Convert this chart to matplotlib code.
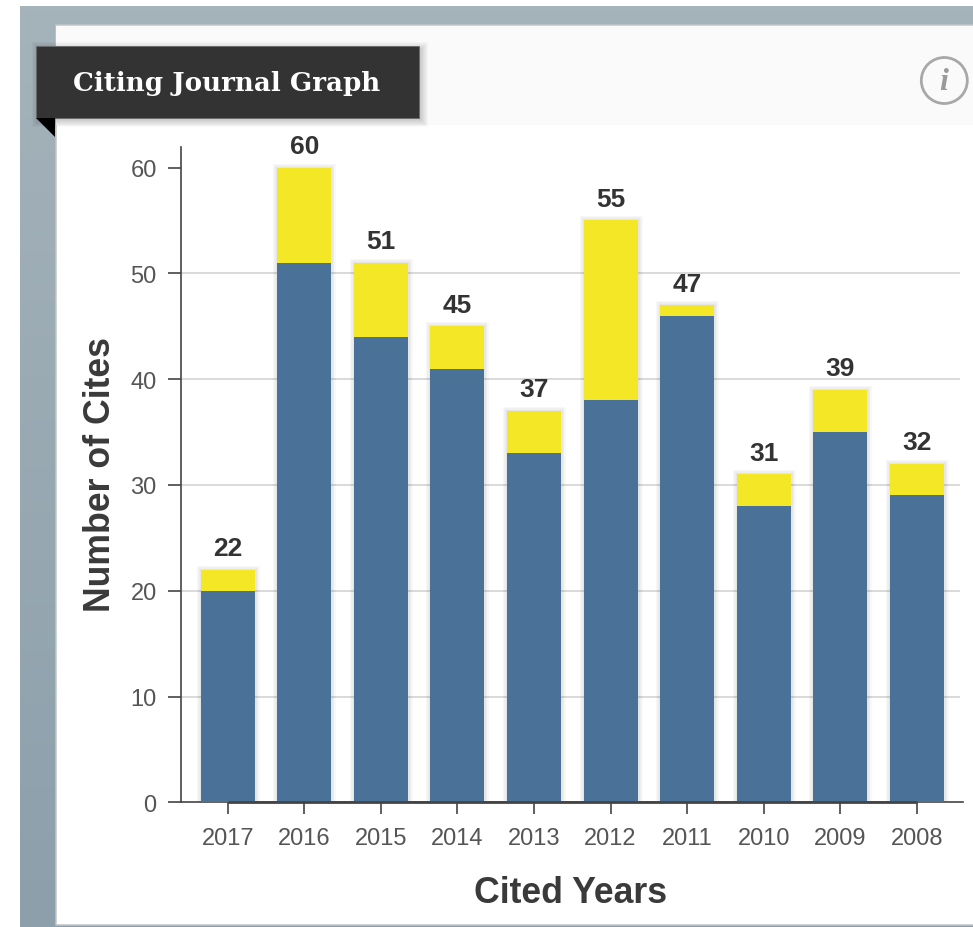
import numpy as np
import matplotlib
matplotlib.use("Agg")
import matplotlib.pyplot as plt
from matplotlib.patches import Rectangle, Polygon, Circle

years = ["2017", "2016", "2015", "2014", "2013", "2012", "2011", "2010", "2009", "2008"]
lower = [20, 51, 44, 41, 33, 38, 46, 28, 35, 29]
upper = [2, 9, 7, 4, 4, 17, 1, 3, 4, 3]
totals = [22, 60, 51, 45, 37, 55, 47, 31, 39, 32]
y_ticks = [0, 10, 20, 30, 40, 50, 60]
grid_lines = [10, 20, 30, 40, 50]

W, H = 973, 928
plt.rcParams['font.family'] = ['Liberation Sans', 'DejaVu Sans']

fig = plt.figure(figsize=(W / 100, H / 100), dpi=100, facecolor="white")

# background in pixel coordinates
bg = fig.add_axes([0, 0, 1, 1], zorder=0)
bg.axis("off")

# grey page behind the panel, slightly darker to the bottom
grad = np.linspace(0, 1, 256).reshape(-1, 1)
grey = matplotlib.colors.LinearSegmentedColormap.from_list("g", ["#a5b3ba", "#8c9fab"])
bg.imshow(grad, extent=(20, W, H, 7), aspect="auto", cmap=grey, zorder=0)
bg.set_xlim(0, W)
bg.set_ylim(H, 0)

bg.add_patch(Rectangle((55.5, 26), W - 55, 899.5, fc="white", ec="#c2c6c8", lw=1.1, zorder=1))
bg.add_patch(Rectangle((56, 27), W - 56, 99, fc="#fafafa", ec="none", zorder=1))

# title ribbon with soft shadow
for d in range(9, 0, -1):
    bg.add_patch(Rectangle((38 - d + 3, 49 - d + 3), 381 + 2 * d - 3, 70 + 2 * d - 3,
                           fc="black", ec="none", alpha=0.025, zorder=2))
bg.add_patch(Rectangle((36, 47), 383, 72, fc="#333333", ec="#6a6a6a", lw=0.6, zorder=3))
bg.add_patch(Polygon([(36, 119), (55, 119), (55, 138)], closed=True, fc="black", ec="none", zorder=3))
bg.text(227, 83, "Citing Journal Graph", color="white", fontsize=18.8, fontweight="bold",
        family=["DejaVu Serif"], ha="center", va="center", zorder=4)

# info icon
bg.add_patch(Circle((944.3, 81.5), 23, fc="none", ec="#a8a8a8", lw=2, zorder=3))
bg.text(944, 82, "i", color="#9a9a9a", fontsize=23, fontweight="bold", fontstyle="italic",
        family=["Liberation Serif"], ha="center", va="center", zorder=4)

# chart, positioned on the pixels of the plot area
left, right, top, bottom = 181, 963, 147.5, 803.3
step = 76.55
first = 227.8
ax = fig.add_axes([left / W, 1 - bottom / H, (right - left) / W, (bottom - top) / H], zorder=2)
ax.patch.set_alpha(0)

x = np.arange(len(years))
bar_w = 54 / step

ax.set_xlim((left - first) / step, (right - first) / step)
ax.set_ylim(0, (bottom - top) / 10.58)

ax.hlines(grid_lines, ax.get_xlim()[0], (960 - first) / step, color="#cfcfcf", lw=1.1, zorder=1)

# soft halo around the columns
for lw, a in [(6.5, 0.03), (4.5, 0.04), (2.5, 0.05)]:
    ax.bar(x, totals, width=bar_w, color="none", edgecolor=(0.2, 0.2, 0.2, a), linewidth=lw, zorder=2)
ax.bar(x, lower, width=bar_w, color="#4a7299", zorder=3)
ax.bar(x, upper, bottom=lower, width=bar_w, color="#f4e826", zorder=3)

for xi, t in zip(x, totals):
    ax.text(xi, t + 0.9, str(t), ha="center", va="bottom", fontsize=19,
            fontweight="bold", color="#333333", zorder=4)

ax.set_xticks(x)
ax.set_xticklabels(years)
ax.set_yticks(y_ticks)

for s in ["top", "right"]:
    ax.spines[s].set_visible(False)
for s in ["left", "bottom"]:
    ax.spines[s].set_color("#444444")
    ax.spines[s].set_linewidth(1.2)
ax.plot([x[0], x[-1]], [0, 0], color="#444444", lw=2.0, clip_on=False, zorder=5, solid_capstyle="butt")

ax.tick_params(axis="both", labelsize=17, labelcolor="#555555", color="#444444", width=1.2)
ax.tick_params(axis="x", length=8.6, pad=9)
ax.tick_params(axis="y", length=9.5, pad=8)

bg.text(571, 894, "Cited Years", fontsize=25.7, fontweight="bold", color="#3a3a3a", ha="center", va="center")
bg.text(101, 475, "Number of Cites", fontsize=25.7, fontweight="bold", color="#3a3a3a",
        rotation=90, ha="center", va="center")

fig.savefig("out.png", dpi=100)
